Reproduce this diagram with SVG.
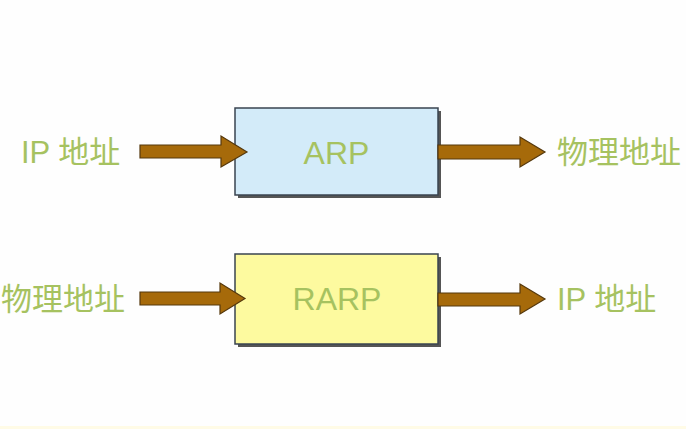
<svg xmlns="http://www.w3.org/2000/svg" width="686" height="429" viewBox="0 0 686 429">
<defs>
<style>
.lbl{font-family:"Liberation Sans","Noto Sans CJK SC",Arial,sans-serif;font-size:31px;fill:#a6c260}
.ttl{font-family:"Liberation Sans","Noto Sans CJK SC",Arial,sans-serif;font-size:32px;fill:#a6c260;text-anchor:middle}
.box{stroke:#3a4450;stroke-width:1.5}
.shadow{fill:#555}
.arrow{fill:#a66a0a;stroke:#55380c;stroke-width:1.2;stroke-linejoin:miter}
</style>
</defs>
<rect x="0" y="0" width="686" height="429" fill="#fefefe"/>
<rect x="0" y="426" width="686" height="3" fill="#fffbe6"/>
<g id="arp">
<rect class="shadow" x="238" y="111" width="203" height="87"/>
<rect class="box" x="235" y="108" width="203" height="87" fill="#d3ebf9"/>
<text class="ttl" x="336.5" y="164">ARP</text>
</g>
<g id="rarp">
<rect class="shadow" x="238" y="257" width="203" height="90"/>
<rect class="box" x="235" y="254" width="203" height="90" fill="#fdfa9f"/>
<text class="ttl" x="337" y="310">RARP</text>
</g>
<g id="label-ip-in">
<text class="lbl" x="21" y="163">IP 地址</text>
</g>
<g id="label-mac-out">
<text class="lbl" x="557" y="163">物理地址</text>
</g>
<g id="label-mac-in">
<text class="lbl" x="1" y="310">物理地址</text>
</g>
<g id="label-ip-out">
<text class="lbl" x="557" y="310">IP 地址</text>
</g>
<g id="connectors">
<polygon class="arrow" points="140,145 221,145 221,136 247,152 221,167 221,158 140,158"/>
<polygon class="arrow" points="438,145 520,145 520,137 545,152 520,167 520,159 438,159"/>
<polygon class="arrow" points="140,292 220,292 220,283 245,298.5 220,314 220,305 140,305"/>
<polygon class="arrow" points="438,293 520,293 520,284 545,299 520,314 520,306 438,306"/>
</g>
</svg>
